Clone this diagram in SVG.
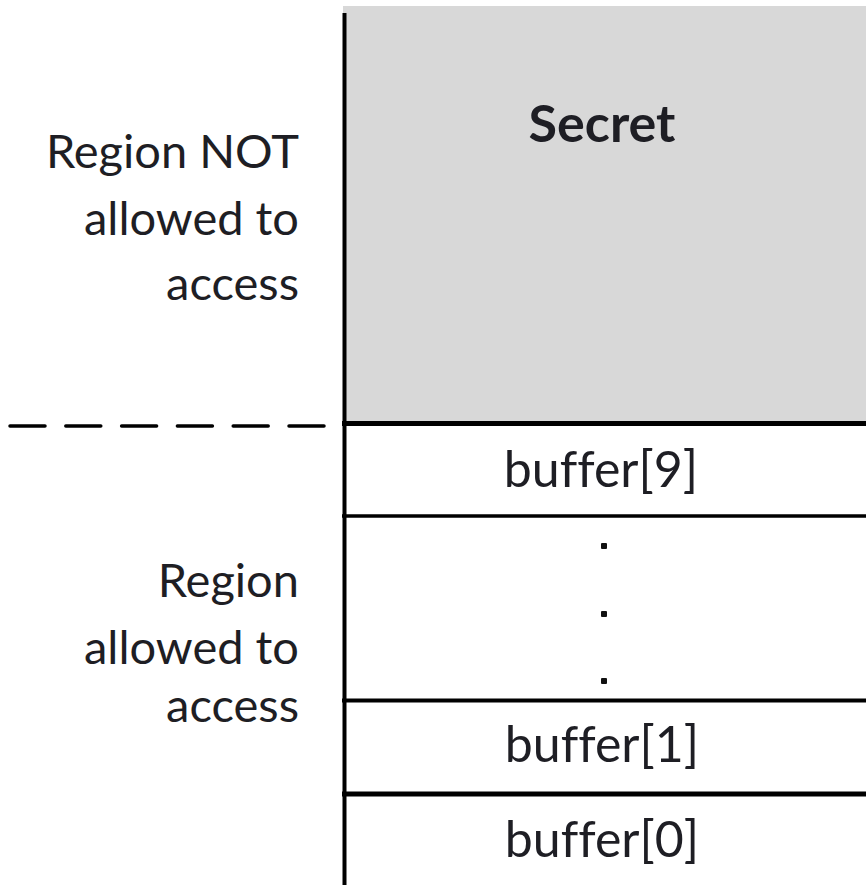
<svg xmlns="http://www.w3.org/2000/svg" width="866" height="885" viewBox="0 0 866 885">
  <style>
    .lbl { font-family: Lato, "Liberation Sans", sans-serif; font-size: 47px; fill: #1e1e24; text-anchor: end; }
    .cell { font-family: Lato, "Liberation Sans", sans-serif; font-size: 50px; fill: #1e1e24; text-anchor: middle; font-variant-ligatures: none; }
    .bold { font-weight: bold; font-size: 52px; }
    .rule { stroke: #000; fill: none; }
    .dot { fill: #111; }
  </style>
  <rect width="866" height="885" fill="#ffffff"/>

  <!-- memory stack -->
  <g id="secret">
    <rect x="343" y="6" width="523" height="417" fill="#d8d8d8"/>
    <text class="cell bold" x="602" y="142">Secret</text>
  </g>
  <g id="buffer9">
    <rect x="344" y="423" width="522" height="93" fill="#ffffff"/>
    <text class="cell" x="601" y="487">buffer[9]</text>
  </g>
  <g id="gap">
    <rect class="dot" x="601" y="543" width="6" height="6" rx="1"/>
    <rect class="dot" x="601" y="611" width="6" height="6" rx="1"/>
    <rect class="dot" x="601" y="678" width="6" height="6" rx="1"/>
  </g>
  <g id="buffer1">
    <text class="cell" x="602" y="762">buffer[1]</text>
  </g>
  <g id="buffer0">
    <text class="cell" x="602" y="857">buffer[0]</text>
  </g>

  <!-- cell borders -->
  <g id="borders">
    <line class="rule" x1="344.5" y1="13" x2="344.5" y2="885" stroke-width="4"/>
    <line class="rule" x1="342" y1="423.5" x2="866" y2="423.5" stroke-width="5"/>
    <line class="rule" x1="342" y1="516" x2="866" y2="516" stroke-width="3.5"/>
    <line class="rule" x1="342" y1="700.5" x2="866" y2="700.5" stroke-width="4"/>
    <line class="rule" x1="342" y1="794" x2="866" y2="794" stroke-width="5"/>
  </g>

  <!-- boundary between regions -->
  <g id="connectors">
    <line class="rule" x1="10" y1="426" x2="324" y2="426" stroke-width="3.5" stroke-dasharray="35 20.8" stroke-linecap="round"/>
  </g>

  <g id="label-denied">
    <text class="lbl" x="299" y="168">Region NOT</text>
    <text class="lbl" x="299" y="235">allowed to</text>
    <text class="lbl" x="299" y="300">access</text>
  </g>
  <g id="label-allowed">
    <text class="lbl" x="299" y="597">Region</text>
    <text class="lbl" x="299" y="664">allowed to</text>
    <text class="lbl" x="299" y="722">access</text>
  </g>
</svg>
